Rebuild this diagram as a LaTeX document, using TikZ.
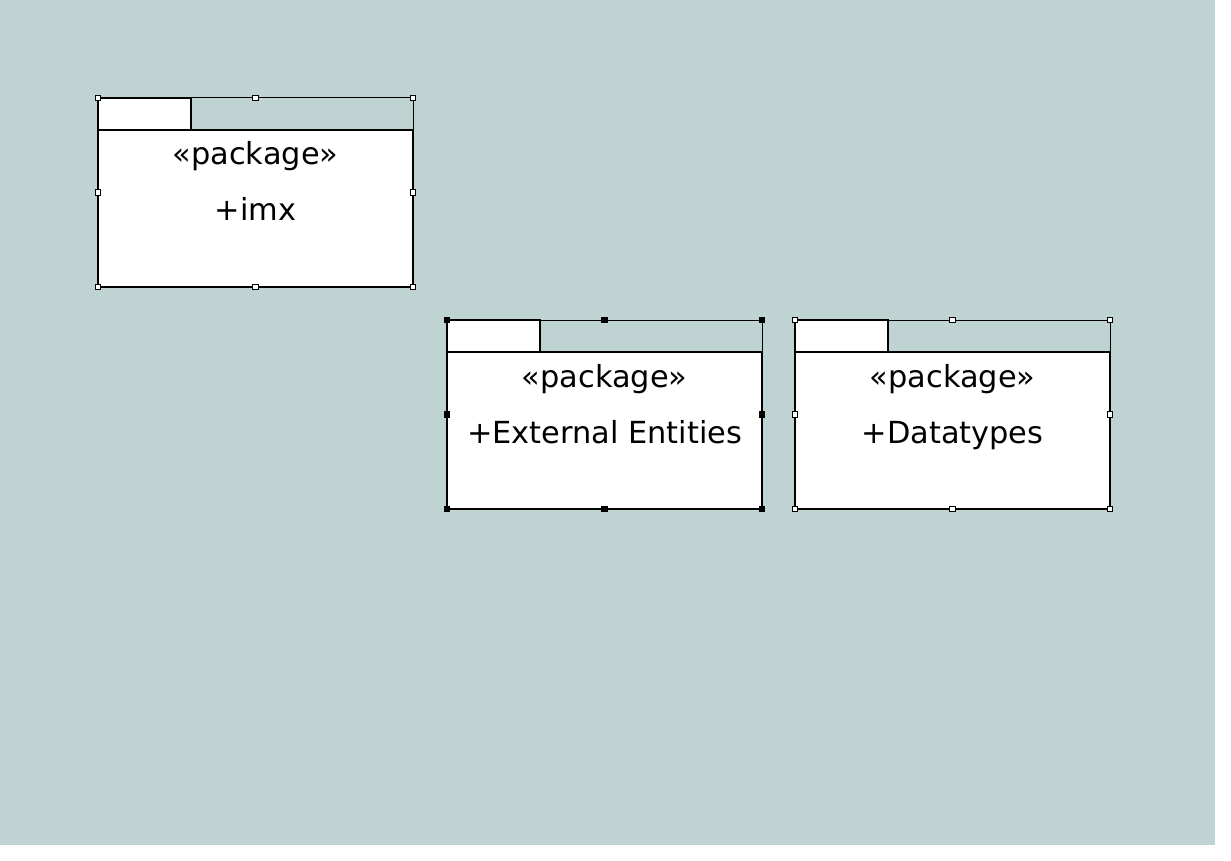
\documentclass[tikz,border=0pt]{standalone}
\usepackage{fontspec}
\setmainfont{DejaVu Sans}
\usetikzlibrary{calc}

\definecolor{pkgbg}{RGB}{191,211,210}

\tikzset{
  pkgbody/.style={draw=black, fill=white, line width=2pt, minimum width=315pt, minimum height=157pt, inner sep=0pt, outer sep=0pt},
  pkgtab/.style={draw=black, fill=white, line width=2pt, minimum width=93pt, minimum height=32pt, inner sep=0pt, outer sep=0pt},
  pkgtext/.style={anchor=base, inner sep=0pt, font=\fontsize{30.4}{36}\selectfont},
  selline/.style={draw=black, line width=1pt},
  handle/.style={draw=black, fill=white, line width=0.8pt, minimum size=5.5pt, inner sep=0pt},
  handlesel/.style={handle, fill=black}
}

\begin{document}
\begin{tikzpicture}[x=1pt,y=-1pt]

%% canvas
\fill[white] (0,0) rectangle (1231,861);
\fill[pkgbg] (0,0) rectangle (1215,845);
\useasboundingbox (0,0) rectangle (1231,861);

%% package imx
\node[pkgbody] (imx) at (255.5,208.5) {};
\node[pkgtab, anchor=south west] (imxtab) at (imx.north west) {};
\draw[selline] (imxtab.north east) -| (imx.north east);
\node[pkgtext] (imxst) at (255.5,165) {«package»};
\node[pkgtext] (imxname) at (255.5,221) {+imx};

%% handles imx
\node[handle] (imxh1) at (imxtab.north west) {};
\node[handle] (imxh2) at (imx.north |- imxtab.north) {};
\node[handle] (imxh3) at (imx.north east |- imxtab.north) {};
\node[handle] (imxh4) at ($(imxh1)!0.5!(imx.south west)$) {};
\node[handle] (imxh5) at ($(imxh3)!0.5!(imx.south east)$) {};
\node[handle] (imxh6) at (imx.south west) {};
\node[handle] (imxh7) at (imx.south) {};
\node[handle] (imxh8) at (imx.south east) {};

%% package External Entities
\node[pkgbody] (ext) at (604.5,430.5) {};
\node[pkgtab, anchor=south west] (exttab) at (ext.north west) {};
\draw[selline] (exttab.north east) -| (ext.north east);
\node[pkgtext] (extst) at (604.5,387) {«package»};
\node[pkgtext] (extname) at (604.5,443) {+External Entities};

%% handles External Entities
\node[handlesel] (exth1) at (exttab.north west) {};
\node[handlesel] (exth2) at (ext.north |- exttab.north) {};
\node[handlesel] (exth3) at (ext.north east |- exttab.north) {};
\node[handlesel] (exth4) at ($(exth1)!0.5!(ext.south west)$) {};
\node[handlesel] (exth5) at ($(exth3)!0.5!(ext.south east)$) {};
\node[handlesel] (exth6) at (ext.south west) {};
\node[handlesel] (exth7) at (ext.south) {};
\node[handlesel] (exth8) at (ext.south east) {};

%% package Datatypes
\node[pkgbody] (dt) at (952.5,430.5) {};
\node[pkgtab, anchor=south west] (dttab) at (dt.north west) {};
\draw[selline] (dttab.north east) -| (dt.north east);
\node[pkgtext] (dtst) at (952.5,387) {«package»};
\node[pkgtext] (dtname) at (952.5,443) {+Datatypes};

%% handles Datatypes
\node[handle] (dth1) at (dttab.north west) {};
\node[handle] (dth2) at (dt.north |- dttab.north) {};
\node[handle] (dth3) at (dt.north east |- dttab.north) {};
\node[handle] (dth4) at ($(dth1)!0.5!(dt.south west)$) {};
\node[handle] (dth5) at ($(dth3)!0.5!(dt.south east)$) {};
\node[handle] (dth6) at (dt.south west) {};
\node[handle] (dth7) at (dt.south) {};
\node[handle] (dth8) at (dt.south east) {};

\end{tikzpicture}
\end{document}
